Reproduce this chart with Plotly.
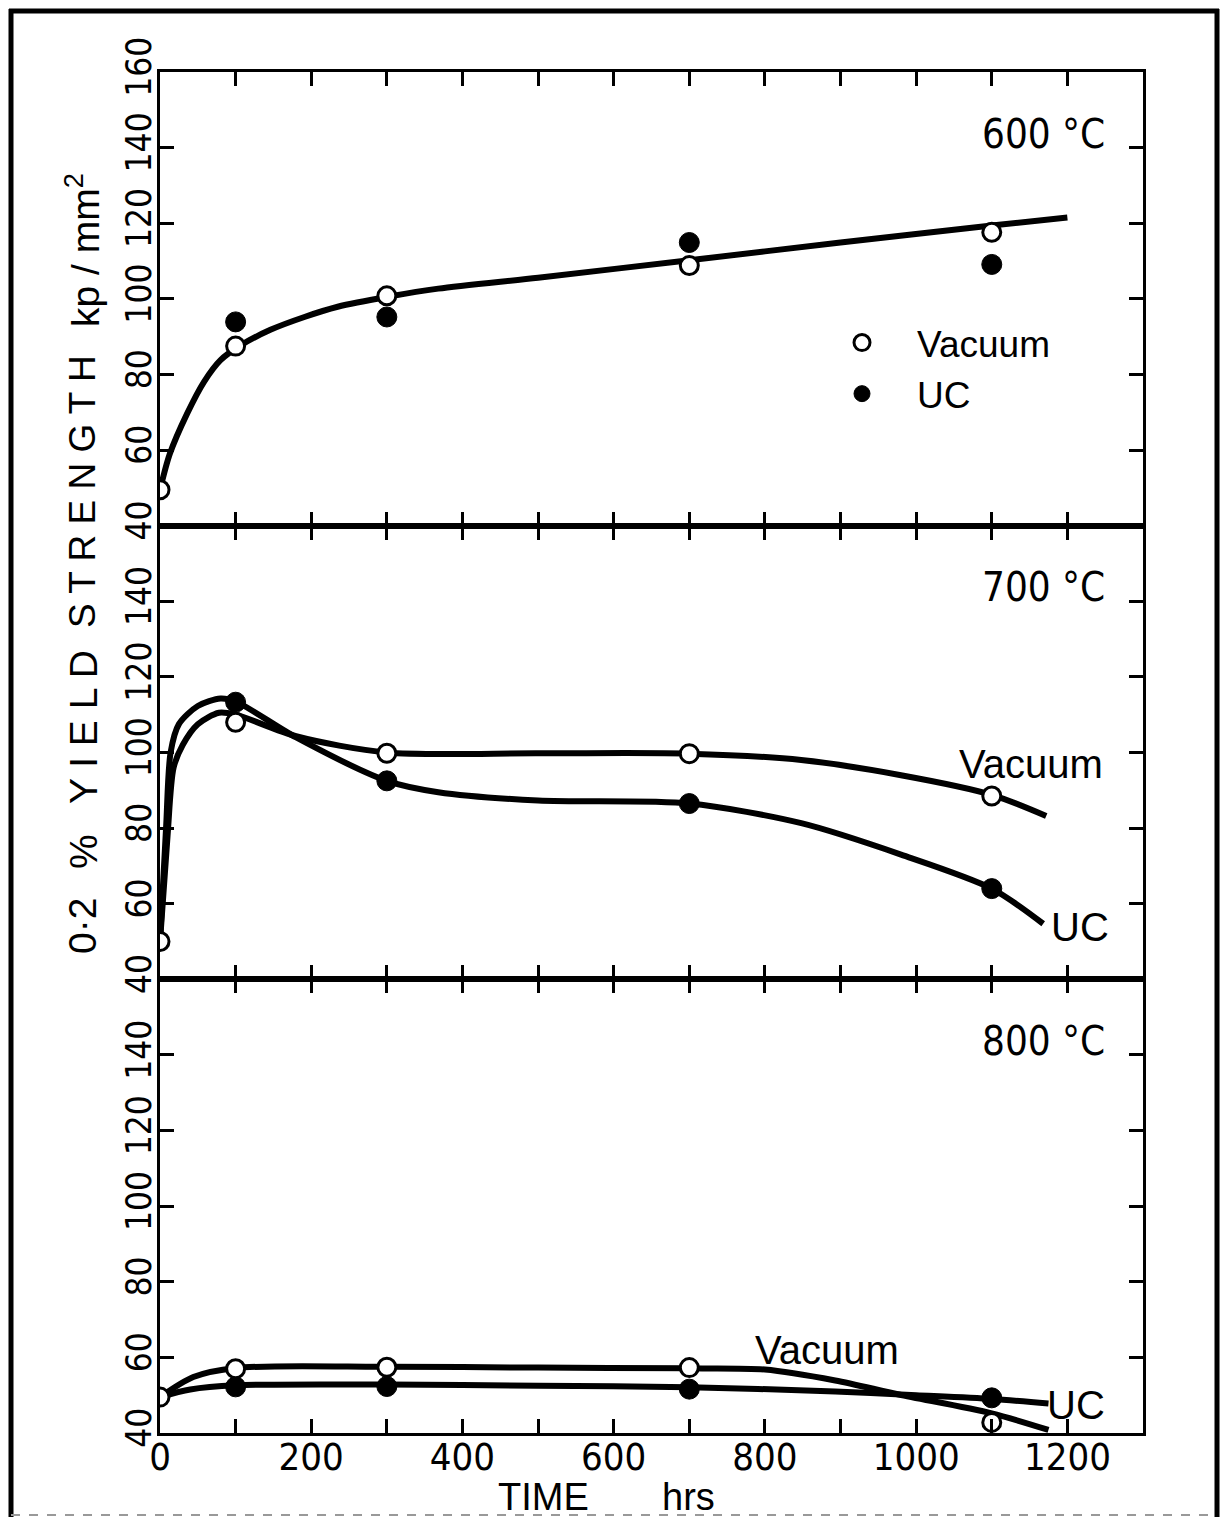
import plotly.graph_objects as go
from plotly.subplots import make_subplots

# ---------------- data ----------------
hour_ticks = list(range(0, 1301, 100))
hour_labels = [str(h) if (h % 200 == 0 and h <= 1200) else "" for h in hour_ticks]
stress_ticks = [40, 60, 80, 100, 120, 140, 160]

# 600 °C
t600_vac_x = [0, 100, 300, 700, 1100]
t600_vac_y = [49.5, 87.5, 100.8, 108.8, 117.6]
t600_uc_x = [100, 300, 700, 1100]
t600_uc_y = [93.9, 95.2, 114.9, 109.1]
t600_fit_x = [0, 13, 36, 58, 80, 105, 146, 191, 235, 303, 368, 500, 700, 900, 1100, 1200]
t600_fit_y = [49.5, 59, 69.7, 78, 83.8, 87.5, 91.8, 95.2, 97.9, 100.6, 102.7, 105.6, 110.2, 114.9, 119.4, 121.5]

# 700 °C
t700_vac_x = [0, 100, 300, 700, 1100]
t700_vac_y = [50, 108, 99.8, 99.7, 88.5]
t700_uc_x = [100, 300, 700, 1100]
t700_uc_y = [113.3, 92.5, 86.5, 64]
t700_vac_fit_x = [0, 10, 18, 30, 50, 78, 100, 180, 300, 500, 700, 848, 980, 1100, 1172]
t700_vac_fit_y = [50, 78, 96, 102, 107.5, 110.5, 110, 104.3, 100, 99.8, 99.7, 98, 94, 88.8, 83.2]
t700_uc_fit_x = [0, 8, 14, 25, 50, 80, 100, 180, 300, 368, 500, 700, 848, 980, 1100, 1168]
t700_uc_fit_y = [50, 80, 100, 107.5, 112.3, 114.3, 113.5, 104, 92.5, 89.5, 87.3, 86.5, 81.3, 73, 64, 54.7]

# 800 °C
t800_vac_x = [0, 100, 300, 700, 1100]
t800_vac_y = [49.5, 57, 57.4, 57.3, 42.8]
t800_uc_x = [100, 300, 700, 1100]
t800_uc_y = [52.2, 52.3, 51.6, 49.3]
t800_vac_fit_x = [0, 44, 100, 300, 500, 700, 800, 893, 977, 1100, 1175]
t800_vac_fit_y = [49.5, 54.8, 57.2, 57.5, 57.3, 57.1, 56.8, 53.9, 50.2, 45.2, 40.8]
t800_uc_fit_x = [0, 40, 100, 300, 500, 700, 893, 1000, 1100, 1175]
t800_uc_fit_y = [49.5, 51.5, 52.6, 52.8, 52.5, 52.1, 51, 50, 49, 47.8]

# ---------------- styles ----------------
NUM_FONT = "Liberation Sans Narrow, DejaVu Sans Condensed, Liberation Sans, Arial"
TXT_FONT = "Liberation Sans, Arial"
INK = "black"
LINE_W = 6

open_marker = dict(symbol="circle", size=18, color="white", line=dict(color=INK, width=3))
full_marker = dict(symbol="circle", size=20, color=INK, line=dict(color=INK, width=1))

fig = make_subplots(rows=3, cols=1, shared_xaxes=True, vertical_spacing=0)


def add_panel(row, fits, vac_x, vac_y, uc_x, uc_y, legend=False):
    for fx, fy in fits:
        fig.add_trace(go.Scatter(x=fx, y=fy, mode="lines",
                                 line=dict(color=INK, width=LINE_W, shape="spline", smoothing=0.8),
                                 showlegend=False, hoverinfo="skip"), row=row, col=1)
    fig.add_trace(go.Scatter(x=uc_x, y=uc_y, mode="markers", marker=full_marker, name="UC",
                             showlegend=legend, legendrank=2), row=row, col=1)
    fig.add_trace(go.Scatter(x=vac_x, y=vac_y, mode="markers", marker=open_marker, name="Vacuum",
                             showlegend=legend, legendrank=1), row=row, col=1)


add_panel(1, [(t600_fit_x, t600_fit_y)], t600_vac_x, t600_vac_y, t600_uc_x, t600_uc_y, legend=True)
add_panel(2, [(t700_vac_fit_x, t700_vac_fit_y), (t700_uc_fit_x, t700_uc_fit_y)],
          t700_vac_x, t700_vac_y, t700_uc_x, t700_uc_y)
add_panel(3, [(t800_vac_fit_x, t800_vac_fit_y), (t800_uc_fit_x, t800_uc_fit_y)],
          t800_vac_x, t800_vac_y, t800_uc_x, t800_uc_y)

for r in (1, 2, 3):
    fig.update_xaxes(row=r, col=1, range=[0, 1300], tickvals=hour_ticks, ticktext=hour_labels,
                     showticklabels=(r == 3), ticks="inside", ticklen=14, tickwidth=3, tickcolor=INK,
                     ticklabelstandoff=-12,
                     showline=True, linewidth=3, linecolor=INK, mirror="ticks", showgrid=False, zeroline=False,
                     tickfont=dict(family=NUM_FONT, size=38, color=INK))
    ylabels = [str(v) for v in stress_ticks]
    if r != 1:
        ylabels[-1] = ""
    fig.update_yaxes(row=r, col=1, range=[40, 160], tickvals=stress_ticks, ticktext=ylabels,
                     ticks="inside", ticklen=14, tickwidth=3, tickcolor=INK, tickangle=-90,
                     ticklabelstandoff=-8,
                     showline=True, linewidth=3, linecolor=INK, mirror="ticks", showgrid=False, zeroline=False,
                     tickfont=dict(family=NUM_FONT, size=35, color=INK))

# temperature labels and curve labels (data coordinates of each panel)
ann = []
for r, lab in ((1, "600 °C"), (2, "700 °C"), (3, "800 °C")):
    ann.append(dict(text=lab, x=1168, y=143.7, xref=f"x{'' if r == 1 else r}", yref=f"y{'' if r == 1 else r}",
                    xanchor="center", yanchor="middle",
                    showarrow=False, font=dict(family=NUM_FONT, size=40, color=INK)))
curve_labels = [
    (2, "Vacuum", 1152, 96.9), (2, "UC", 1217, 53.8),
    (3, "Vacuum", 882, 62.0), (3, "UC", 1211, 47.4),
]
for r, lab, x, y in curve_labels:
    ann.append(dict(text=lab, x=x, y=y, xref=f"x{r}", yref=f"y{r}", showarrow=False,
                    xanchor="center", yanchor="middle",
                    font=dict(family=TXT_FONT, size=40, color=INK)))

# y-axis title words (rotated)
H = 1361.0
px2x = lambda p: (p - 160) / 983.0
py2y = lambda p: (1433 - p) / H
ytitle = [("0·2", 926, 39), ("%", 852, 39), ("Y I E L D", 727, 39), ("S T R E N G T H", 492, 37),
          ("kp / mm<sup>2</sup>", 250, 39)]
for word, py, fs in ytitle:
    ann.append(dict(text=word, x=px2x(83), y=py2y(py), xref="paper", yref="paper",
                    xanchor="center", yanchor="middle",
                    textangle=-90, showarrow=False, font=dict(family=TXT_FONT, size=fs, color=INK)))
# x-axis title words
for word, px in (("TIME", 543), ("hrs", 688)):
    ann.append(dict(text=word, x=px2x(px), y=py2y(1497), xref="paper", yref="paper",
                    xanchor="center", yanchor="middle",
                    showarrow=False, font=dict(family=TXT_FONT, size=38, color=INK)))

# outer frame
shapes = [
    dict(type="line", xref="paper", yref="paper", x0=px2x(11), x1=px2x(11), y0=py2y(1517), y1=py2y(9),
         line=dict(color=INK, width=5)),
    dict(type="line", xref="paper", yref="paper", x0=px2x(9), x1=px2x(1219), y0=py2y(11), y1=py2y(11),
         line=dict(color=INK, width=5)),
    dict(type="line", xref="paper", yref="paper", x0=px2x(1217), x1=px2x(1217), y0=py2y(1517), y1=py2y(9),
         line=dict(color=INK, width=5)),
    dict(type="line", xref="paper", yref="paper", x0=px2x(11), x1=px2x(1217), y0=py2y(1515), y1=py2y(1515),
         line=dict(color="#999", width=2, dash="dash")),
]

fig.update_layout(
    width=1224, height=1517,
    margin=dict(l=160, r=81, t=72, b=84),
    paper_bgcolor="white", plot_bgcolor="white",
    annotations=ann, shapes=shapes,
    showlegend=True,
    legend=dict(x=px2x(807), y=py2y(312), xanchor="left", yanchor="top", bgcolor="rgba(0,0,0,0)",
                font=dict(family=TXT_FONT, size=37, color=INK), itemwidth=100, tracegroupgap=0),
)

fig.write_html("out.html")
